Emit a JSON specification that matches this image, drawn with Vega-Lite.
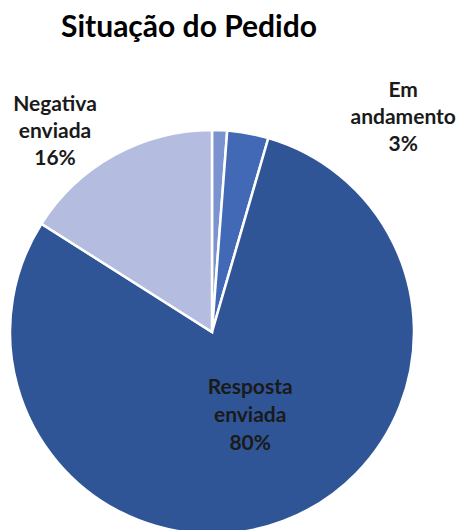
{
  "$schema": "https://vega.github.io/schema/vega-lite/v6.json",
  "width": 424,
  "height": 404,
  "autosize": {"type": "none"},
  "padding": {"left": 0, "top": 130, "right": 38, "bottom": 0},
  "background": "white",
  "title": {
    "text": "Situação do Pedido",
    "font": "Lato",
    "fontSize": 30,
    "fontWeight": "bold",
    "color": "#000000",
    "anchor": "middle",
    "dx": -23,
    "offset": 24
  },
  "view": {"stroke": null},
  "data": {
    "values": [
      {"situacao": "Outros", "valor": 1.2, "ordem": 1, "rotulo": ""},
      {"situacao": "Em andamento", "valor": 3.3, "ordem": 2, "rotulo": "Em|andamento|3%"},
      {"situacao": "Resposta enviada", "valor": 79.5, "ordem": 3, "rotulo": "Resposta|enviada|80%"},
      {"situacao": "Negativa enviada", "valor": 16.0, "ordem": 4, "rotulo": "Negativa|enviada|16%"}
    ]
  },
  "encoding": {
    "theta": {"field": "valor", "type": "quantitative", "stack": true},
    "order": {"field": "ordem", "type": "quantitative"}
  },
  "layer": [
    {
      "mark": {"type": "arc", "outerRadius": 202, "stroke": "white", "strokeWidth": 2.5},
      "encoding": {
        "color": {
          "field": "situacao",
          "type": "nominal",
          "scale": {
            "domain": ["Outros", "Em andamento", "Resposta enviada", "Negativa enviada"],
            "range": ["#7b93cf", "#4169b5", "#2f5597", "#b4bde0"]
          },
          "legend": null
        }
      }
    },
    {
      "mark": {"type": "text", "radius": 220, "dx": 152, "dy": -25, "lineBreak": "|", "lineHeight": 27, "font": "Lato", "fontSize": 21, "fontWeight": "bold", "color": "#1a1a1a", "align": "center", "baseline": "middle"},
      "encoding": {"text": {"condition": {"test": "datum.situacao === 'Em andamento'", "field": "rotulo"}, "value": ""}}
    },
    {
      "mark": {"type": "text", "radius": 220, "dx": -51, "dy": -34, "lineBreak": "|", "lineHeight": 27, "font": "Lato", "fontSize": 21, "fontWeight": "bold", "color": "#1a1a1a", "align": "center", "baseline": "middle"},
      "encoding": {"text": {"condition": {"test": "datum.situacao === 'Negativa enviada'", "field": "rotulo"}, "value": ""}}
    },
    {
      "mark": {"type": "text", "radius": 91, "dx": 6, "dy": -29, "lineBreak": "|", "lineHeight": 28, "font": "Lato", "fontSize": 21, "fontWeight": "bold", "color": "#1a1a1a", "align": "center", "baseline": "middle"},
      "encoding": {"text": {"condition": {"test": "datum.situacao === 'Resposta enviada'", "field": "rotulo"}, "value": ""}}
    }
  ]
}
